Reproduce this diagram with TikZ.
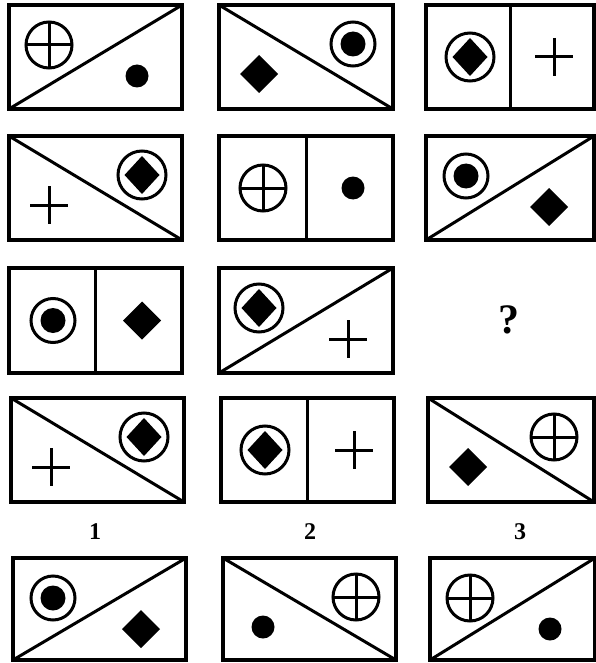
\documentclass[tikz,border=0pt]{standalone}
\usepackage{tikz}
\usepackage{fontspec}
\setmainfont{Liberation Serif}
\tikzset{
  frame/.style={line width=3.4pt, line join=miter},
  diag/.style={line width=3pt, line cap=round},
  sym/.style={line width=3pt},
  lab/.style={font=\fontsize{24}{24}\selectfont\bfseries, inner sep=0pt},
  qmark/.style={font=\fontsize{42}{42}\selectfont\bfseries, inner sep=0pt},
  pics/cplus/.style={code={
    \draw[sym] (0,0) circle[radius=23pt];
    \draw[sym] (-23,0) -- (23,0) (0,-23) -- (0,23);}},
  pics/bull/.style={code={
    \draw[sym] (0,0) circle[radius=22pt];
    \fill (0,0) circle[radius=12.5pt];}},
  pics/cdia/.style={code={
    \draw[sym] (0,0) circle[radius=24pt];
    \fill (0,-19) -- (17.5,0) -- (0,19) -- (-17.5,0) -- cycle;}},
  pics/dotsym/.style={code={
    \fill (0,0) circle[radius=11.5pt];}},
  pics/dia/.style={code={
    \fill (0,-19) -- (19,0) -- (0,19) -- (-19,0) -- cycle;}},
  pics/plussym/.style={code={
    \draw[sym] (-19,0) -- (19,0) (0,-19) -- (0,19);}},
}
% up diagonal: bottom-left to top-right; A upper-left, B lower-right
\newcommand\cellup[6]{%
  \draw[frame] (#1,#2) rectangle (#3,#4);
  \draw[diag] (#1,#4) -- (#3,#2);
  \pic at ({#1+40},{#2+40}) {#5};
  \pic at ({#3-45},{#2+71}) {#6};
}
% down diagonal: top-left to bottom-right; A upper-right, B lower-left
\newcommand\celldown[6]{%
  \draw[frame] (#1,#2) rectangle (#3,#4);
  \draw[diag] (#1,#2) -- (#3,#4);
  \pic at ({#3-40},{#2+39}) {#5};
  \pic at ({#1+40},{#2+69}) {#6};
}
% vertical divider; A left, B right
\newcommand\cellvert[6]{%
  \draw[frame] (#1,#2) rectangle (#3,#4);
  \draw[diag] ({(#1+#3)/2},#2) -- ({(#1+#3)/2},#4);
  \pic at ({#1+44},{(#2+#4)/2}) {#5};
  \pic at ({#3-40},{(#2+#4)/2}) {#6};
}
\begin{document}
\begin{tikzpicture}[x=1pt,y=-1pt]
  \useasboundingbox (0,0) rectangle (596,663);
  \fill[white] (0,0) rectangle (596,663);
  % row 1
  \cellup{9}{5}{182}{109}{cplus}{dotsym}
  \celldown{219}{5}{393}{109}{bull}{dia}
  \cellvert{426}{5}{594}{109}{cdia}{plussym}
  % row 2
  \celldown{9}{136}{182}{240}{cdia}{plussym}
  \cellvert{219}{136}{393}{240}{cplus}{dotsym}
  \cellup{426}{136}{594}{240}{bull}{dia}
  % row 3
  \cellvert{9}{268}{182}{373}{bull}{dia}
  \cellup{219}{268}{393}{373}{cdia}{plussym}
  \node[qmark] (q) at (509,320) {?};
  % row 4
  \celldown{11}{398}{184}{502}{cdia}{plussym}
  \cellvert{221}{398}{394}{502}{cdia}{plussym}
  \celldown{428}{398}{594}{502}{cplus}{dia}
  % labels
  \node[lab] (l1) at (95,532) {1};
  \node[lab] (l2) at (310,532) {2};
  \node[lab] (l3) at (520,532) {3};
  % row 5
  \cellup{13}{558}{186}{660}{bull}{dia}
  \celldown{223}{558}{396}{660}{cplus}{dotsym}
  \cellup{430}{558}{595}{660}{cplus}{dotsym}
\end{tikzpicture}
\end{document}
